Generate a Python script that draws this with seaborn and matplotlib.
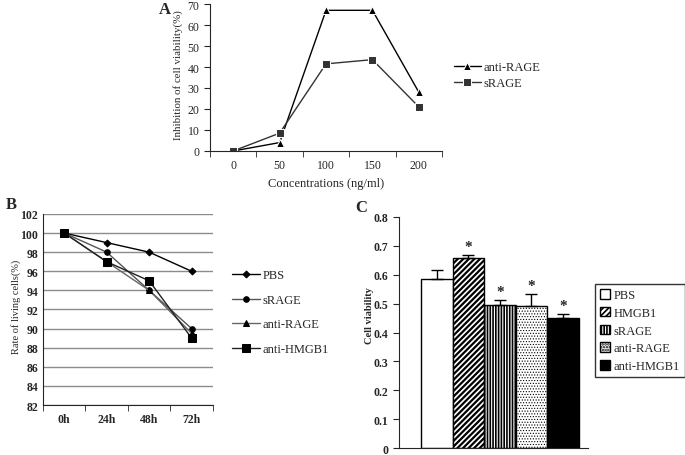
import numpy as np
import pandas as pd
import matplotlib
matplotlib.use("Agg")
import matplotlib.pyplot as plt
import seaborn as sns
from matplotlib.patches import Patch

# panel A
conc = ["0", "50", "100", "150", "200"]
anti_rage_a = [0, 4, 67, 67, 28]
srage_a = [0, 8.5, 41.5, 43.5, 21]

# panel B
hours = ["0h", "24h", "48h", "72h"]
pbs_b = [100, 99, 98, 96]
srage_b = [100, 98, 94, 90]
anti_rage_b = [100, 97, 94, 89.5]
anti_hmgb1_b = [100, 97, 95, 89]

# panel C
groups = ["PBS", "HMGB1", "sRAGE", "anti-RAGE", "anti-HMGB1"]
viability = [0.585, 0.657, 0.497, 0.492, 0.452]
viability_err = [0.030, 0.010, 0.015, 0.040, 0.012]
significant = [False, True, True, True, True]

sns.set_style("ticks")
plt.rcParams["font.family"] = ["Liberation Serif", "DejaVu Serif"]
plt.rcParams["hatch.linewidth"] = 1.2

fig = plt.figure(figsize=(6.85, 4.56), dpi=100)


def excel_xaxis(ax, cats):
    pos = np.arange(len(cats))
    ax.set_xticks(pos, cats)
    ax.set_xticks(np.arange(len(cats) + 1) - 0.5, minor=True)
    ax.tick_params(axis="x", which="major", length=0, pad=6)
    ax.tick_params(axis="x", which="minor", length=4, direction="out")
    ax.set_xlim(-0.5, len(cats) - 0.5)
    return pos


# ---- A ----
axA = fig.add_axes([0.3066, 0.6667, 0.3387, 0.3223])
pos = excel_xaxis(axA, conc)
sns.lineplot(x=pos, y=anti_rage_a, marker="^", markersize=6, color="black",
             lw=1, label="anti-RAGE", ax=axA, sort=False)
sns.lineplot(x=pos, y=srage_a, marker="s", markersize=6, color="#333333",
             lw=1, label="sRAGE", ax=axA, sort=False)
axA.set_ylim(0, 70)
axA.set_yticks(range(0, 71, 10))
axA.tick_params(axis="y", length=4, labelsize=8.5)
axA.tick_params(axis="x", labelsize=8.5)
axA.set_xlabel("Concentrations (ng/ml)", fontsize=9)
axA.set_ylabel("Inhibition of cell viability(%)", fontsize=7.8)
axA.yaxis.set_label_coords(-0.115, 0.52)
sns.despine(ax=axA)
h, l = axA.get_legend_handles_labels()
axA.get_legend().remove()
fig.legend(h, l, loc="upper left", bbox_to_anchor=(0.655, 0.875), frameon=False,
           fontsize=9, handlelength=2.2, labelspacing=0.35, handletextpad=0.2,
           borderaxespad=0)
fig.text(0.232, 0.995, "A", fontsize=12, fontweight="bold", va="top")

# ---- B ----
axB = fig.add_axes([0.0628, 0.1096, 0.248, 0.419])
pos = excel_xaxis(axB, hours)
series_b = [("PBS", pbs_b, "D", 3.5, "black"),
            ("sRAGE", srage_b, "o", 4, "#555555"),
            ("anti-RAGE", anti_rage_b, "^", 5, "#666666"),
            ("anti-HMGB1", anti_hmgb1_b, "s", 6, "#222222")]
for name, vals, m, ms, c in series_b:
    sns.lineplot(x=pos, y=vals, marker=m, markersize=ms, color=c, lw=1,
                 markeredgecolor="black", markerfacecolor="black",
                 label=name, ax=axB, sort=False)
axB.set_ylim(82, 102)
axB.set_yticks(range(82, 103, 2))
axB.yaxis.grid(True, color="#8c8c8c", lw=1)
axB.set_axisbelow(True)
axB.tick_params(axis="y", length=0, labelsize=8.5)
axB.tick_params(axis="both", labelsize=8.5)
for t in axB.get_xticklabels() + axB.get_yticklabels():
    t.set_fontweight("bold")
axB.set_ylabel("Rate of living cells(%)", fontsize=7.5)
axB.yaxis.set_label_coords(-0.13, 0.52)
sns.despine(ax=axB)
h, l = axB.get_legend_handles_labels()
axB.get_legend().remove()
fig.legend(h, l, loc="upper left", bbox_to_anchor=(0.332, 0.418), frameon=False,
           fontsize=9, handlelength=2.2, labelspacing=1.0, handletextpad=0.2,
           borderaxespad=0)
fig.text(0.008, 0.568, "B", fontsize=12, fontweight="bold", va="top")

# ---- C ----
axC = fig.add_axes([0.5825, 0.015, 0.276, 0.507])
df = pd.DataFrame({"group": groups, "viability": viability})
sns.barplot(data=df, x="group", y="viability", color="white", edgecolor="black",
            linewidth=1, width=1.0, ax=axC, errorbar=None)
hatches = ["", "//////", "||||||", "......", ""]
faces = ["white", "white", "white", "white", "black"]
hatch_lw = [1.2, 1.6, 1.2, 0.5, 1.2]
for bar, hatch, fc, hl in zip(axC.patches, hatches, faces, hatch_lw):
    bar.set_hatch(hatch)
    bar.set_facecolor(fc)
    if hasattr(bar, "set_hatch_linewidth"):
        bar.set_hatch_linewidth(hl)
xs = np.arange(len(groups))
axC.errorbar(xs, viability, yerr=[np.zeros(len(groups)), viability_err],
             fmt="none", ecolor="black", elinewidth=1, capsize=4, capthick=1)
for x, v, e, s in zip(xs, viability, viability_err, significant):
    if s:
        axC.text(x, v + e + 0.008, "*", ha="center", va="bottom", fontsize=11,
                 fontweight="bold")
axC.set_xlim(-1.2, 4.8)
axC.set_ylim(0, 0.8)
axC.set_yticks(np.arange(0, 0.81, 0.1))
axC.set_yticklabels([f"{v:g}" for v in np.round(np.arange(0, 0.81, 0.1), 1)])
axC.set_xticks([])
axC.set_xlabel("")
axC.set_ylabel("Cell viability", fontsize=7.5, fontweight="bold")
axC.yaxis.set_label_coords(-0.13, 0.58)
axC.tick_params(axis="y", length=4, labelsize=8.5)
for t in axC.get_yticklabels():
    t.set_fontweight("bold")
sns.despine(ax=axC)
handles = [Patch(facecolor=fc, edgecolor="black", hatch=hh, label=g)
           for g, hh, fc in zip(groups, hatches, faces)]
fig.legend(handles=handles, loc="upper left", bbox_to_anchor=(0.8686, 0.375),
           frameon=True, fancybox=False, edgecolor="black", fontsize=9,
           handlelength=0.8, handleheight=0.8, handletextpad=0.3,
           labelspacing=0.45, borderpad=0.4, borderaxespad=0)
fig.text(0.518, 0.562, "C", fontsize=12, fontweight="bold", va="top")

fig.savefig("out.png", dpi=100)
